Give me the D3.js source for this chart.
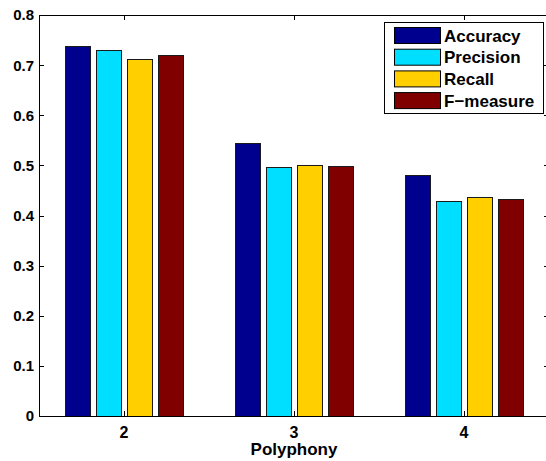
<!DOCTYPE html>
<html>
<head>
<meta charset="utf-8">
<script src="https://cdn.jsdelivr.net/npm/d3@7"></script>
<style>
  html, body { margin: 0; padding: 0; background: #fff; }
  svg { display: block; }
  text { font-family: 'Liberation Sans', Arial, sans-serif; font-weight: bold; fill: #000; }
</style>
</head>
<body>
<div id="graphic"></div>
<script>
'use strict';
(function (d3) {
  // data
  const categories = [2, 3, 4];
  const seriesNames = [`Accuracy`, `Precision`, `Recall`, `F\u2212measure`];
  const accuracy = [0.738, 0.544, 0.48];
  const precision = [0.73, 0.497, 0.428];
  const recall = [0.712, 0.501, 0.436];
  const fmeasure = [0.721, 0.499, 0.433];
  const yTicks = [0, 0.1, 0.2, 0.3, 0.4, 0.5, 0.6, 0.7, 0.8];

  const series = [accuracy, precision, recall, fmeasure];
  const colors = [`#00008f`, `#00dfff`, `#ffcf00`, `#800000`];

  const width = 546;
  const height = 461;
  const plot = { left: 39, right: 549, top: 15, bottom: 416 };

  const x = d3.scaleLinear().domain([1.5, 4.5]).range([plot.left, plot.right]);
  const y = d3.scaleLinear().domain([0, 0.8]).range([plot.bottom, plot.top]);

  // bars inside one group (matlab group width 0.727 of a unit)
  const groupWidth = x(1.5 + 0.727) - x(1.5);
  const inner = d3
    .scaleBand()
    .domain(d3.range(series.length))
    .range([-groupWidth / 2, groupWidth / 2])
    .paddingInner(0.19)
    .paddingOuter(0.095);

  const svg = d3.select(`div#graphic`).append(`svg`).attr(`width`, width).attr(`height`, height);

  const data = [];
  categories.forEach((c, i) => {
    series.forEach((s, j) => data.push({ cat: c, s: j, value: s[i] }));
  });

  // Bars
  svg
    .append(`g`)
    .selectAll(`rect`)
    .data(data)
    .join(`rect`)
    .attr(`x`, (d) => Math.round(x(d.cat) + inner(d.s)) + 0.5)
    .attr(`y`, (d) => Math.round(y(d.value)) + 0.5)
    .attr(`width`, Math.round(inner.bandwidth()))
    .attr(`height`, (d) => Math.round(plot.bottom) - Math.round(y(d.value)))
    .attr(`fill`, (d) => colors[d.s])
    .attr(`stroke`, `#1a1a1a`)
    .attr(`stroke-width`, 1);

  // Box axes with inward ticks
  const frame = svg.append(`g`).attr(`stroke`, `#000`).attr(`fill`, `none`);
  frame
    .append(`rect`)
    .attr(`x`, plot.left + 0.5)
    .attr(`y`, plot.top + 0.5)
    .attr(`width`, plot.right - plot.left)
    .attr(`height`, plot.bottom - plot.top);

  const tickLen = 5;
  frame
    .selectAll(`path.ytick`)
    .data(yTicks)
    .join(`path`)
    .attr(`class`, `ytick`)
    .attr(`d`, (d) => {
      const yy = Math.round(y(d)) + 0.5;
      return `M${plot.left},${yy}h${tickLen}M${plot.right},${yy}h${-tickLen}`;
    });
  frame
    .selectAll(`path.xtick`)
    .data(categories)
    .join(`path`)
    .attr(`class`, `xtick`)
    .attr(`d`, (d) => {
      const xx = Math.round(x(d)) + 0.5;
      return `M${xx},${plot.bottom}v${-tickLen}M${xx},${plot.top}v${tickLen}`;
    });

  // Tick labels
  svg
    .append(`g`)
    .attr(`font-size`, 15)
    .attr(`text-anchor`, `end`)
    .selectAll(`text`)
    .data(yTicks)
    .join(`text`)
    .attr(`x`, plot.left - 5)
    .attr(`y`, (d) => y(d))
    .attr(`dy`, `0.36em`)
    .text((d) => d3.format(`.1~f`)(d));

  svg
    .append(`g`)
    .attr(`font-size`, 16)
    .attr(`text-anchor`, `middle`)
    .selectAll(`text`)
    .data(categories)
    .join(`text`)
    .attr(`x`, (d) => x(d))
    .attr(`y`, 438)
    .text((d) => d);

  svg
    .append(`text`)
    .attr(`font-size`, 17)
    .attr(`text-anchor`, `middle`)
    .attr(`x`, x(3))
    .attr(`y`, 455)
    .text(`Polyphony`);

  // Legend
  const legend = svg.append(`g`).attr(`transform`, `translate(384,22)`);
  legend
    .append(`rect`)
    .attr(`x`, 0.5)
    .attr(`y`, 0.5)
    .attr(`width`, 159)
    .attr(`height`, 91)
    .attr(`fill`, `#fff`)
    .attr(`stroke`, `#000`);
  const rows = legend
    .selectAll(`g`)
    .data(seriesNames)
    .join(`g`)
    .attr(`transform`, (d, i) => `translate(0,${13.5 + i * 21.7})`);
  rows
    .append(`rect`)
    .attr(`x`, 10.5)
    .attr(`y`, -8)
    .attr(`width`, 46)
    .attr(`height`, 16)
    .attr(`fill`, (d, i) => colors[i])
    .attr(`stroke`, `#000`);
  rows
    .append(`text`)
    .attr(`x`, 60)
    .attr(`y`, 0)
    .attr(`dy`, `0.36em`)
    .attr(`font-size`, 17)
    .text((d) => d);
})(d3);
</script>
</body>
</html>
